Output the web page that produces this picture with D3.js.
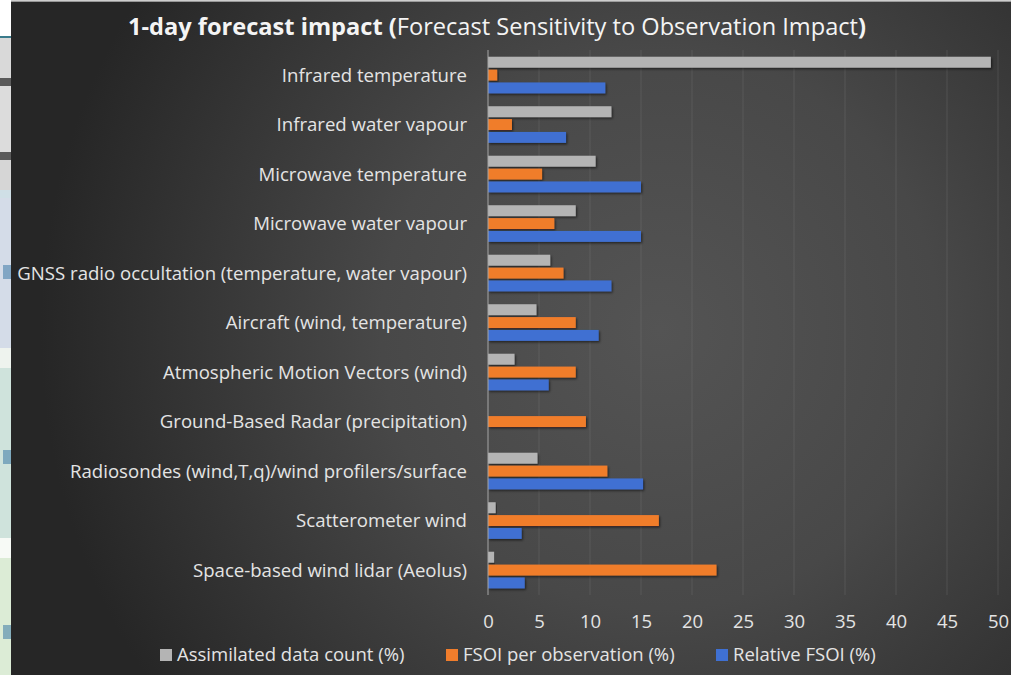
<!DOCTYPE html>
<html>
<head>
<meta charset="utf-8">
<script src="https://cdn.jsdelivr.net/npm/d3@7"></script>
<style>
  html, body { margin: 0; padding: 0; background: #ffffff; }
  svg { display: block; }
  text { font-family: "Open Sans", Lato, sans-serif; font-variant-ligatures: none; }
</style>
</head>
<body>
<svg id="chart" width="1011" height="675"></svg>
<script>
// Observation types, top to bottom
const categories = [
  "Infrared temperature",
  "Infrared water vapour",
  "Microwave temperature",
  "Microwave water vapour",
  "GNSS radio occultation (temperature, water vapour)",
  "Aircraft (wind, temperature)",
  "Atmospheric Motion Vectors (wind)",
  "Ground-Based Radar (precipitation)",
  "Radiosondes (wind,T,q)/wind profilers/surface",
  "Scatterometer wind",
  "Space-based wind lidar (Aeolus)"
];

const seriesNames = ["Assimilated data count (%)", "FSOI per observation (%)", "Relative FSOI (%)"];

const assimilatedCount = [49.3, 12.1, 10.55, 8.6, 6.1, 4.75, 2.6, 0, 4.85, 0.75, 0.6];
const fsoiPerObs       = [0.9, 2.35, 5.3, 6.5, 7.4, 8.6, 8.6, 9.6, 11.7, 16.75, 22.4];
const relativeFsoi     = [11.5, 7.65, 15.0, 15.0, 12.1, 10.85, 5.95, 0, 15.2, 3.3, 3.6];

const xTicks = [0, 5, 10, 15, 20, 25, 30, 35, 40, 45, 50];

const seriesValues = [assimilatedCount, fsoiPerObs, relativeFsoi];
const colors = ["#b4b4b4", "#f07d2c", "#3f70d2"];

const svg = d3.select("#chart");
const W = 1011, H = 675;
const defs = svg.append("defs");

// Left sliver of the slide behind the chart
const strip = svg.append("g");
[[0, 0, 36, "#ffffff"], [0, 36, 2, "#3a7b8c"], [0, 38, 40, "#d9d9d9"], [0, 78, 8, "#5a5a5a"],
 [0, 86, 66, "#dcdcdc"], [0, 152, 8, "#5a5a5a"], [0, 160, 30, "#d6d6d6"], [0, 190, 8, "#cfdfe6"],
 [0, 198, 150, "#d4dce8"], [0, 348, 20, "#eef3ee"], [0, 368, 170, "#cfe3dc"], [0, 538, 20, "#f7faf6"],
 [0, 558, 117, "#dcecd6"]].forEach(([x, y, h, c]) => {
  strip.append("rect").attr("x", x).attr("y", y).attr("width", 12).attr("height", h).attr("fill", c);
});
[[265, 14], [450, 14], [625, 14]].forEach(([y0, h]) => {
  strip.append("rect").attr("x", 3).attr("y", y0).attr("width", 9).attr("height", h)
    .attr("fill", "#3c7aa6").attr("opacity", 0.55);
});

// Chart area background
const bg = defs.append("radialGradient").attr("id", "bg")
  .attr("gradientUnits", "userSpaceOnUse")
  .attr("cx", 660).attr("cy", 330).attr("r", 620);
bg.append("stop").attr("offset", "0").attr("stop-color", "#545454");
bg.append("stop").attr("offset", "0.45").attr("stop-color", "#484848");
bg.append("stop").attr("offset", "1").attr("stop-color", "#262626");
svg.append("rect").attr("x", 11).attr("y", 1).attr("width", W - 11).attr("height", H - 1).attr("fill", "url(#bg)");
svg.append("line").attr("x1", 11).attr("x2", W).attr("y1", 1).attr("y2", 1)
  .attr("stroke", "#bdbdbd").attr("stroke-width", 1.5);

const shadow = defs.append("filter").attr("id", "shadow")
  .attr("x", "-5%").attr("y", "-30%").attr("width", "115%").attr("height", "180%");
shadow.append("feDropShadow").attr("dx", 1.2).attr("dy", 1.5).attr("stdDeviation", 1)
  .attr("flood-color", "#000").attr("flood-opacity", 0.55);

// Scales
const x = d3.scaleLinear().domain([0, 50]).range([488, 998]);
const y = d3.scaleBand().domain(categories).range([50.3, 594.8]).paddingInner(0.26).paddingOuter(0.13);
const ySub = d3.scaleBand().domain(d3.range(3)).range([0, y.bandwidth()]).paddingInner(0.15);

// Gridlines
svg.append("g").selectAll("line").data(xTicks.slice(1)).join("line")
  .attr("x1", d => x(d)).attr("x2", d => x(d))
  .attr("y1", 50).attr("y2", 595)
  .attr("stroke", "#8a8a8a").attr("stroke-opacity", 0.25).attr("stroke-width", 1);

// Bars
const groups = svg.append("g").selectAll("g").data(categories).join("g")
  .attr("transform", d => `translate(0,${y(d)})`);
groups.each(function (cat, i) {
  d3.select(this).selectAll("rect").data(seriesValues.map((s, k) => ({ k, v: s[i] })))
    .join("rect")
    .filter(d => d.v > 0)
    .attr("x", x(0))
    .attr("y", d => ySub(d.k))
    .attr("width", d => x(d.v) - x(0))
    .attr("height", ySub.bandwidth())
    .attr("fill", d => colors[d.k])
    .attr("filter", "url(#shadow)");
});

// Vertical axis line
svg.append("line").attr("x1", x(0)).attr("x2", x(0)).attr("y1", 50).attr("y2", 595)
  .attr("stroke", "#a6a6a6").attr("stroke-width", 1);

// Category labels
svg.append("g").selectAll("text").data(categories).join("text")
  .attr("x", 467)
  .attr("y", d => y(d) + y.bandwidth() / 2)
  .attr("dy", "0.35em")
  .attr("text-anchor", "end")
  .attr("font-size", 18.6)
  .attr("fill", "#e4e4e4")
  .text(d => d);

// X axis tick labels
const xAxis = d3.axisBottom(x).tickValues(xTicks).tickSize(0).tickPadding(0);
const ax = svg.append("g").attr("transform", "translate(0,622)").call(xAxis);
ax.select(".domain").remove();
ax.selectAll("text").attr("font-size", 18.5).attr("fill", "#e4e4e4")
  .attr("font-family", "'Open Sans', sans-serif").attr("dy", "0.35em");

// Title
const title = svg.append("text").attr("x", 497).attr("y", 35).attr("text-anchor", "middle")
  .attr("font-size", 23.6).attr("fill", "#f4f4f4");
title.append("tspan").attr("font-weight", "bold").text("1-day forecast impact (");
title.append("tspan").text("Forecast Sensitivity to Observation Impact");
title.append("tspan").attr("font-weight", "bold").text(")");

// Legend
const legendX = [160, 446, 716];
const legend = svg.append("g").selectAll("g").data(seriesNames).join("g")
  .attr("transform", (d, i) => `translate(${legendX[i]},655)`);
legend.append("rect").attr("x", 0).attr("y", -6).attr("width", 12).attr("height", 12)
  .attr("fill", (d, i) => colors[i]);
legend.append("text").attr("x", 17).attr("dy", "0.35em").attr("font-size", 18.5)
  .attr("fill", "#e4e4e4").text(d => d);
</script>
</body>
</html>
